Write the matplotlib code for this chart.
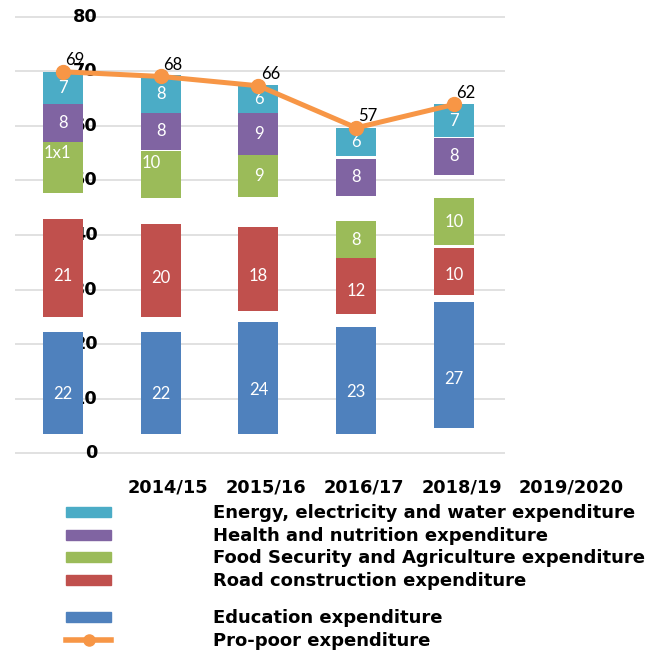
import numpy as np
import matplotlib
matplotlib.use("Agg")
import matplotlib.pyplot as plt
from matplotlib.patches import Rectangle
from matplotlib.lines import Line2D
from matplotlib.transforms import blended_transform_factory

W, H = 647, 653

# ── Data ──────────────────────────────────────────────────────
years = ["2014/15", "2015/16", "2016/17", "2018/19", "2019/2020"]
education = [22, 22, 24, 23, 27]
road = [21, 20, 18, 12, 10]
food = [11, 10, 9, 8, 10]
health = [8, 8, 9, 8, 8]
energy = [7, 8, 6, 6, 7]
pro_poor = [69, 68, 66, 57, 62]
food_text = ["1x1", "10", "9", "8", "10"]
y_ticks = [0, 10, 20, 30, 40, 50, 60, 70, 80]

series = [education, road, food, health, energy]
names = ["Education expenditure", "Road construction expenditure",
         "Food Security and Agriculture expenditure",
         "Health and nutrition expenditure",
         "Energy, electricity and water expenditure"]
colors = ["#4F81BD", "#C0504D", "#9BBB59", "#8064A2", "#4BACC6"]
ORANGE = "#F79646"
# where inside each segment its value label sits (fraction of height)
label_frac = [0.39, 0.42, 0.5, 0.5, 0.5]

# white space left below each segment (layout only, bar units)
gaps = np.array([[0.0, 3.2, 5.7, 0.0, 0.0],
                 [0.0, 3.2, 5.6, 0.3, 0.0],
                 [0.0, 2.45, 6.5, 0.0, 0.0],
                 [0.0, 2.8, 0.0, 5.4, 0.6],
                 [1.3, 1.6, 0.75, 5.05, 0.2]])

plt.rcParams["font.family"] = "DejaVu Sans"
fig = plt.figure(figsize=(W / 100, H / 100), dpi=100)
rect = [15 / W, 1 - 470 / H, 490 / W, 470 / H]

# grid + value axis labels (behind bars)
axg = fig.add_axes(rect)
axg.set_ylim(-3.1, 83.1)
axg.set_xlim(0, 1)
for t in y_ticks:
    axg.axhline(t, color="#D9D9D9", lw=1.1, zorder=1)
    axg.text(0.169, t, str(t), ha="right", va="center", fontsize=12.8,
             fontweight="bold", transform=blended_transform_factory(
                 axg.transAxes, axg.transData), zorder=2)
axg.axis("off")

# bars
ax = fig.add_axes(rect)
ax.patch.set_alpha(0)
ax.set_ylim(-7.74, 93.33)
ax.set_xlim(-0.491, 4.522)
ax.axis("off")
x = np.arange(len(education))
bw = 0.409
bottom = np.zeros(len(x))
for k, (vals, col) in enumerate(zip(series, colors)):
    vals = np.array(vals, dtype=float)
    bottom = bottom + gaps[:, k]
    ax.bar(x, vals, bw, bottom=bottom, color=col, zorder=3)
    for i in range(len(x)):
        txt = food_text[i] if k == 2 else str(int(vals[i]))
        if k == 2 and i < 2:
            ax.text(x[i] - bw / 2 + 0.01, bottom[i] + vals[i] - 2.5, txt,
                    ha="left", va="center", color="white", fontsize=12,
                    family="Lato", zorder=4)
        else:
            ax.text(x[i], bottom[i] + vals[i] * label_frac[k], txt,
                    ha="center", va="center", color="white", fontsize=12,
                    family="Lato", zorder=4)
    bottom = bottom + vals

# category labels (shifted one slot to the right as in the source)
tr = ax.get_xaxis_transform()
for i, lab in enumerate(years):
    ax.text(i + 1 - 0.335, -0.038, lab, ha="left", va="center",
            fontsize=12.8, fontweight="bold", transform=tr, clip_on=False)

# pro-poor line
axl = fig.add_axes(rect)
axl.patch.set_alpha(0)
axl.set_ylim(-16.27, 84.37)
axl.set_xlim(-0.491, 4.522)
axl.axis("off")
axl.plot(x, pro_poor, color=ORANGE, lw=3.6, marker="o", ms=10,
         zorder=5, solid_capstyle="round")
for xi, v in zip(x, pro_poor):
    axl.annotate(str(v), (xi, v), xytext=(8.5, 2.5),
                 textcoords="offset points", ha="center", va="bottom",
                 fontsize=12, family="Lato", color="black")

# legend drawn by hand
leg_names = names[::-1] + ["Pro-poor expenditure"]
leg_colors = colors[::-1] + [ORANGE]
rows = [512, 535, 557, 580, 617, 640]
for name, col, yp in zip(leg_names, leg_colors, rows):
    fy = 1 - yp / H
    if name.startswith("Pro-poor"):
        fig.add_artist(Line2D([66 / W, 111 / W], [fy, fy], color=col,
                              lw=4, transform=fig.transFigure))
        fig.add_artist(Line2D([88.5 / W], [fy], color=col, marker="o",
                              ms=8, transform=fig.transFigure))
    else:
        fig.add_artist(Rectangle((66 / W, fy - 5 / H), 45 / W, 10 / H,
                                 color=col, transform=fig.transFigure))
    fig.text(213 / W, 1 - (yp + 1) / H, name, ha="left", va="center",
             fontsize=13, fontweight="bold")

fig.savefig("out.png", dpi=100)
